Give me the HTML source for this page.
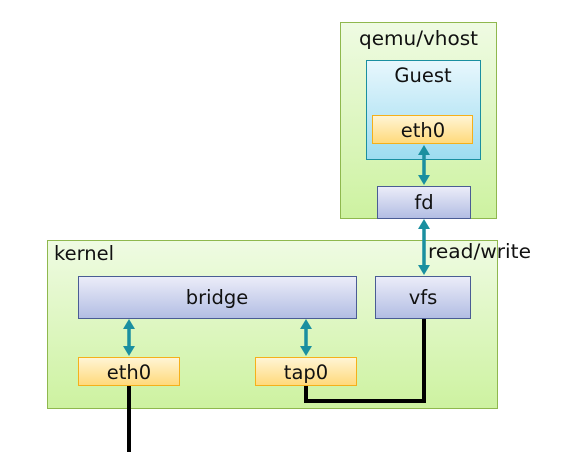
<!DOCTYPE html>
<html><head><meta charset="utf-8"><style>
body{margin:0;width:565px;height:470px;background:#fff;overflow:hidden;font-family:"DejaVu Sans",sans-serif;}
svg{display:block}
text{font-family:"DejaVu Sans",sans-serif;font-size:19.5px;fill:#111;}
</style></head><body>
<svg width="565" height="470" viewBox="0 0 565 470">
<defs>
<linearGradient id="gr" x1="0" y1="0" x2="0" y2="1"><stop offset="0" stop-color="#effbe3"/><stop offset="1" stop-color="#cdf2a0"/></linearGradient>
<linearGradient id="bl" x1="0" y1="0" x2="0" y2="1"><stop offset="0" stop-color="#e8f7fd"/><stop offset="1" stop-color="#9ddcf0"/></linearGradient>
<linearGradient id="pu" x1="0" y1="0" x2="0" y2="1"><stop offset="0" stop-color="#ecedf9"/><stop offset="1" stop-color="#b2bde3"/></linearGradient>
<linearGradient id="or" x1="0" y1="0" x2="0" y2="1"><stop offset="0" stop-color="#fff5d6"/><stop offset="1" stop-color="#ffd97a"/></linearGradient>
</defs>
<rect x="340.5" y="22.5" width="156" height="196" fill="url(#gr)" stroke="#8fb84e"/>
<text x="359" y="45" textLength="119" lengthAdjust="spacingAndGlyphs">qemu/vhost</text>
<rect x="366.5" y="60.5" width="114" height="99" fill="url(#bl)" stroke="#1a8fa0"/>
<text x="423" y="82" text-anchor="middle">Guest</text>
<rect x="372.5" y="115.5" width="100" height="28" fill="url(#or)" stroke="#f5b01a"/>
<text x="423" y="137" text-anchor="middle">eth0</text>
<rect x="377.5" y="186.5" width="93" height="32" fill="url(#pu)" stroke="#4a5c94"/>
<text x="424" y="209" text-anchor="middle">fd</text>

<rect x="47.5" y="240.5" width="450" height="168" fill="url(#gr)" stroke="#8fb84e"/>
<text x="54" y="260">kernel</text>
<rect x="78.5" y="276.5" width="278" height="42" fill="url(#pu)" stroke="#4a5c94"/>
<text x="217" y="304" text-anchor="middle">bridge</text>
<rect x="375.5" y="276.5" width="95" height="42" fill="url(#pu)" stroke="#4a5c94"/>
<text x="423" y="304" text-anchor="middle">vfs</text>
<rect x="78.5" y="357.5" width="101" height="28" fill="url(#or)" stroke="#f5b01a"/>
<text x="129" y="379" text-anchor="middle">eth0</text>
<rect x="255.5" y="357.5" width="101" height="28" fill="url(#or)" stroke="#f5b01a"/>
<text x="306" y="379" text-anchor="middle">tap0</text>
<text x="428" y="258" textLength="103" lengthAdjust="spacingAndGlyphs">read/write</text>

<g fill="#1a8fa0" stroke="#1a8fa0">
<line x1="424" y1="153" x2="424" y2="176" stroke-width="3.5"/>
<polygon points="424,145 418,155 430,155" stroke="none"/><polygon points="424,185 418,175 430,175" stroke="none"/>
<line x1="424" y1="227" x2="424" y2="265" stroke-width="3.5"/>
<polygon points="424,219 418,229 430,229" stroke="none"/><polygon points="424,275 418,265 430,265" stroke="none"/>
<line x1="129" y1="327" x2="129" y2="348" stroke-width="3.5"/>
<polygon points="129,319 123,329 135,329" stroke="none"/><polygon points="129,356 123,346 135,346" stroke="none"/>
<line x1="306" y1="327" x2="306" y2="348" stroke-width="3.5"/>
<polygon points="306,319 300,329 312,329" stroke="none"/><polygon points="306,356 300,346 312,346" stroke="none"/>
</g>
<polyline points="424,319 424,401 306,401 306,386" fill="none" stroke="#000" stroke-width="4"/>
<line x1="129" y1="386" x2="129" y2="452" stroke="#000" stroke-width="4"/>
</svg>
</body></html>
